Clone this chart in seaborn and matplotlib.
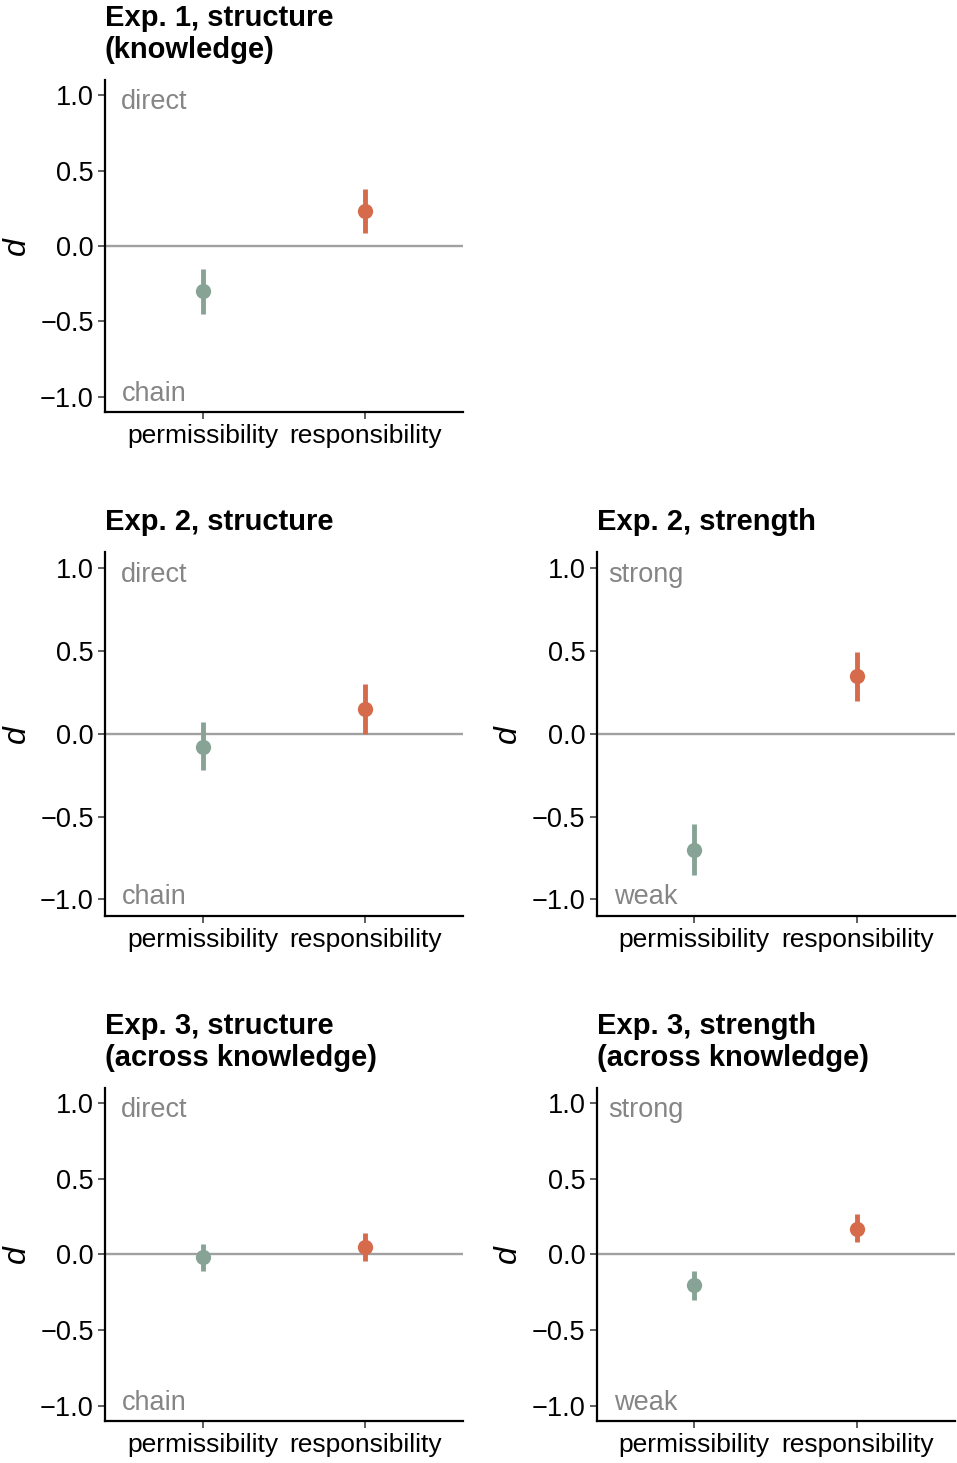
import matplotlib
matplotlib.use("Agg")
import matplotlib.pyplot as plt
import seaborn as sns
import pandas as pd

# Measures on the x axis and their colours
measures = ["permissibility", "responsibility"]
measure_colors = ["#87A396", "#D66B4B"]

# Panel titles and the labels for the two ends of the d scale
titles = [
    "Exp. 1, structure\n(knowledge)",
    "Exp. 2, structure",
    "Exp. 2, strength",
    "Exp. 3, structure\n(across knowledge)",
    "Exp. 3, strength\n(across knowledge)",
]
top_labels = ["direct", "direct", "strong", "direct", "strong"]
bottom_labels = ["chain", "chain", "weak", "chain", "weak"]

# Effect sizes (d) with lower / upper interval bounds, per panel: [permissibility, responsibility]
d_mean = [[-0.30, 0.23], [-0.08, 0.15], [-0.70, 0.35], [-0.02, 0.05], [-0.205, 0.17]]
d_low = [[-0.45, 0.085], [-0.22, 0.00], [-0.85, 0.20], [-0.11, -0.045], [-0.30, 0.08]]
d_high = [[-0.15, 0.38], [0.07, 0.30], [-0.545, 0.495], [0.07, 0.14], [-0.11, 0.265]]

y_ticks = [-1.0, -0.5, 0.0, 0.5, 1.0]

sns.set_style("ticks")
plt.rcParams["font.family"] = ["Liberation Sans", "DejaVu Sans"]
plt.rcParams["axes.unicode_minus"] = True

DPI = 100
W, H = 957, 1463
fig = plt.figure(figsize=(W / DPI, H / DPI), dpi=DPI)

# axes rectangles in figure fractions: (left, bottom, width, height)
col_left = [105 / W, 596.7 / W]
col_width = 358 / W
rows = [((H - 412) / H, 332 / H), ((H - 916) / H, 364.3 / H), ((H - 1420.7) / H, 332.7 / H)]
panel_slots = [(0, 0), (1, 0), (1, 1), (2, 0), (2, 1)]

palette = dict(zip(measures, measure_colors))
px = 72 / DPI  # points per pixel

for i, (r, c) in enumerate(panel_slots):
    b, h = rows[r]
    ax = fig.add_axes([col_left[c], b, col_width, h])

    # long table: each measure carries its low / mean / high values;
    # the median gives the point and the min/max span gives the interval
    recs = []
    for j, m in enumerate(measures):
        for v in (d_low[i][j], d_mean[i][j], d_high[i][j]):
            recs.append({"measure": m, "d": v})
    df = pd.DataFrame(recs)

    ax.axhline(0, color="#A0A0A0", lw=1.7, zorder=0)
    sns.pointplot(
        data=df, x="measure", y="d", hue="measure",
        order=measures, hue_order=measures, palette=palette,
        estimator="median", errorbar=lambda v: (v.min(), v.max()),
        linestyle="none", marker="o", markersize=11, markeredgewidth=0,
        err_kws={"linewidth": 3.5, "solid_capstyle": "butt"},
        dodge=False, legend=False, ax=ax,
    )

    ax.set_xlim(-0.6, 1.6)
    ax.set_ylim(-1.1, 1.1)
    ax.set_yticks(y_ticks)
    ax.set_xlabel("")
    ax.set_ylabel("d", fontsize=23, fontstyle="italic", color="black")
    ax.yaxis.set_label_coords(-0.205, 0.5)

    for side in ("top", "right"):
        ax.spines[side].set_visible(False)
    for side in ("left", "bottom"):
        ax.spines[side].set_linewidth(1.6)
        ax.spines[side].set_color("black")
    ax.tick_params(axis="both", length=5, width=1.1, color="#333333",
                   labelcolor="black", pad=3)
    ax.tick_params(axis="y", labelsize=19.5)
    ax.tick_params(axis="x", labelsize=19, pad=4)

    ax.set_title(titles[i], loc="left", fontsize=21, fontweight="bold",
                 pad=22 * px, color="black")

    ax.annotate(top_labels[i], xy=(-0.3, 1.0), xytext=(0, -13.5 * px),
                textcoords="offset points", ha="center", va="baseline",
                fontsize=19.5, color="#858585")
    ax.annotate(bottom_labels[i], xy=(-0.3, -1.0), xytext=(0, -4.5 * px),
                textcoords="offset points", ha="center", va="baseline",
                fontsize=19.5, color="#858585")

fig.savefig("out.png", dpi=DPI)
